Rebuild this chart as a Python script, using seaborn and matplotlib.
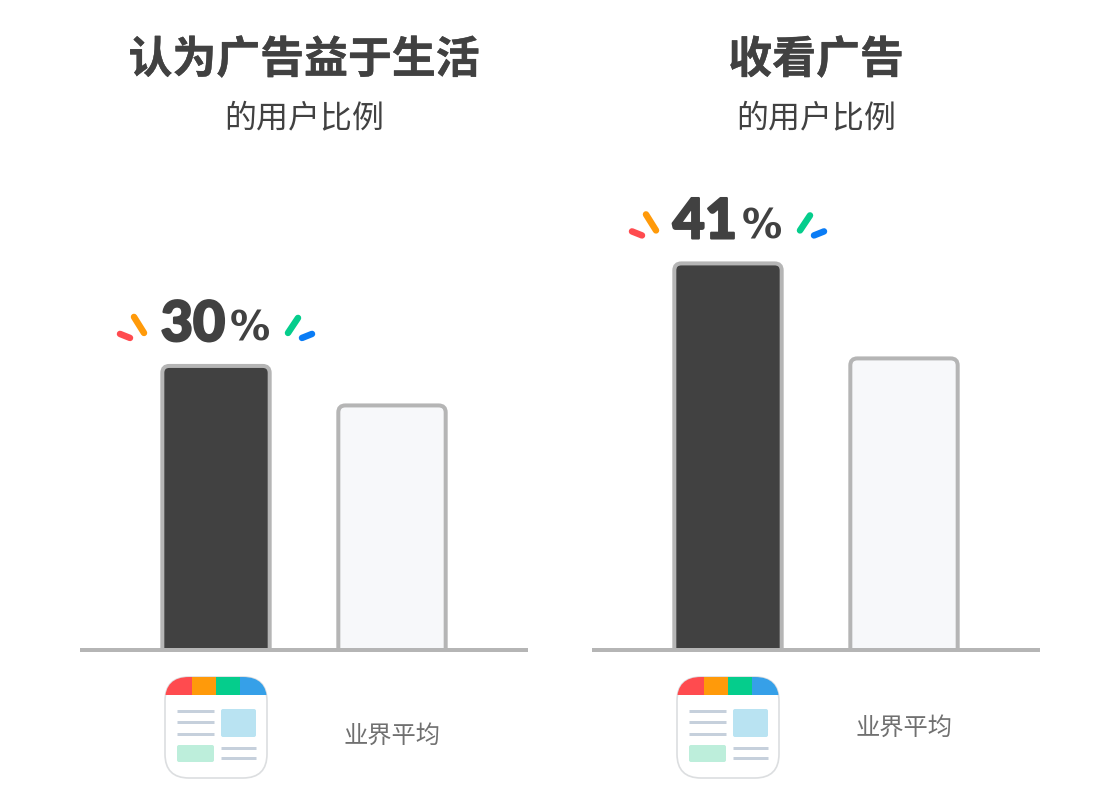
import numpy as np
import pandas as pd
import seaborn as sns
import matplotlib
matplotlib.use('Agg')
import matplotlib.pyplot as plt
import matplotlib.patheffects as pe
from matplotlib.patches import FancyBboxPatch, Rectangle

# chart data
titles = ['认为广告益于生活', '收看广告']
subtitle = '的用户比例'
other_label = '业界平均'
app_values = [30.2, 41.1]
avg_values = [26, 31]
y_max = 50.5

sns.set_theme(style='white')
plt.rcParams['font.family'] = ['Noto Sans CJK SC', 'DejaVu Sans']

W, H = 1120, 800
fig = plt.figure(figsize=(W / 100, H / 100), dpi=100)

# overlay in pixel coordinates for the decorations
over = fig.add_axes([0, 0, 1, 1], zorder=5)
over.set_xlim(0, W)
over.set_ylim(H, 0)
over.axis('off')
over.patch.set_alpha(0)

px = 72 / 100  # points per pixel


def addIcon(cx):
    left, top, size = cx - 51, 677, 102
    frame = FancyBboxPatch((left, top), size, size - 1, boxstyle='round,pad=0,rounding_size=24',
                           fc='white', ec='#dcdee0', lw=1.2)
    over.add_patch(frame)
    clip = FancyBboxPatch((left, top), size, size - 1, boxstyle='round,pad=0,rounding_size=24',
                          fc='none', ec='none')
    over.add_patch(clip)
    for i, c in enumerate(['#ff4b4f', '#ff9a0a', '#05cd8c', '#36a0e8']):
        band = Rectangle((left + [0, 27, 51, 75][i], top), [27, 24, 24, 27][i], 18, fc=c, ec='none')
        over.add_patch(band)
        band.set_clip_path(clip)
    for y in [711, 722, 734]:
        over.plot([cx - 39, cx - 2], [y, y], color='#c6d0dc', lw=3 * px, solid_capstyle='butt')
    for y in [748, 758]:
        over.plot([cx + 5, cx + 40], [y, y], color='#c6d0dc', lw=3 * px, solid_capstyle='butt')
    over.add_patch(FancyBboxPatch((cx + 5, 709), 35, 28, boxstyle='round,pad=0,rounding_size=2',
                                  fc='#b9e3f2', ec='none'))
    over.add_patch(FancyBboxPatch((cx - 39, 745), 37, 17, boxstyle='round,pad=0,rounding_size=2',
                                  fc='#bdeedb', ec='none'))


def addSparks(cx, top):
    sparks = [((-96, -32), (-86, -28), '#ff4b4f'),
              ((-82, -49), (-72, -33), '#ff9a0a'),
              ((72, -33), (82, -48), '#05cd8c'),
              ((86, -28), (96, -32), '#0a7cf5')]
    for a, b, c in sparks:
        over.plot([cx + a[0], cx + b[0]], [top + a[1], top + b[1]], color=c, lw=6.5 * px,
                  solid_capstyle='round')


label_y = [736, 728]

for i, (title, app_val, avg_val) in enumerate(zip(titles, app_values, avg_values)):
    ax = fig.add_axes([(80 + i * 512) / W, (H - 650) / H, 448 / W, 475 / H])
    df = pd.DataFrame({'who': ['app', 'avg'], 'value': [app_val, avg_val]})
    sns.barplot(data=df, x='who', y='value', hue='who', palette=['#414141', '#f7f8fa'],
                width=0.61, legend=False, ax=ax, saturation=1)
    ax.set_xlim(-136 / 176, 1 + 136 / 176)
    ax.set_ylim(0, y_max)
    ax.set_xlabel('')
    ax.set_ylabel('')
    ax.set_xticks([])
    ax.set_yticks([])
    sns.despine(ax=ax, left=True)
    ax.spines['bottom'].set_color('#b5b5b5')
    ax.spines['bottom'].set_linewidth(4 * px)
    ax.spines['bottom'].set_capstyle('butt')
    ax.spines['bottom'].set_zorder(6)
    ax.patch.set_alpha(0)

    # swap seaborn's square bars for rounded ones, same geometry
    xu, yu = 176, 475 / y_max
    for bar in list(ax.patches):
        x, w, h = bar.get_x(), bar.get_width(), bar.get_height()
        fc = bar.get_facecolor()
        bar.remove()
        r = 7 / xu
        ax.add_patch(FancyBboxPatch((x, -2), w, h + 2, boxstyle='round,pad=0,rounding_size=%f' % r,
                                    mutation_aspect=xu / yu, fc=fc, ec='#b5b5b5', lw=4 * px))

    # pixel position of the first bar
    cx = 80 + i * 512 + 136
    top = 650 - app_val * yu

    fig.text((304 + i * 512) / W, 1 - 60 / H, title, ha='center', va='center', fontsize=31.6,
             fontweight='heavy', color='#414141',
             path_effects=[pe.withStroke(linewidth=0.3, foreground='#414141')])
    fig.text((304 + i * 512) / W, 1 - 118 / H, subtitle, ha='center', va='center',
             fontsize=23, color='#414141')

    heavy = [pe.withStroke(linewidth=1.6, foreground='#414141')]
    over.text(cx + 9, top - 25, '%.0f' % app_val, ha='right', va='baseline', family='Lato',
              fontweight='black', fontsize=40, color='#414141', path_effects=heavy)
    over.text(cx + 14, top - 25, '%', ha='left', va='baseline', family='DejaVu Sans',
              fontweight='bold', fontsize=29, color='#414141')
    addSparks(cx, top)
    addIcon(cx)
    over.text(cx + 176, label_y[i], other_label, ha='center', va='center', fontsize=17.5, color='#707070')

fig.savefig('out.png', dpi=100, facecolor='white')
